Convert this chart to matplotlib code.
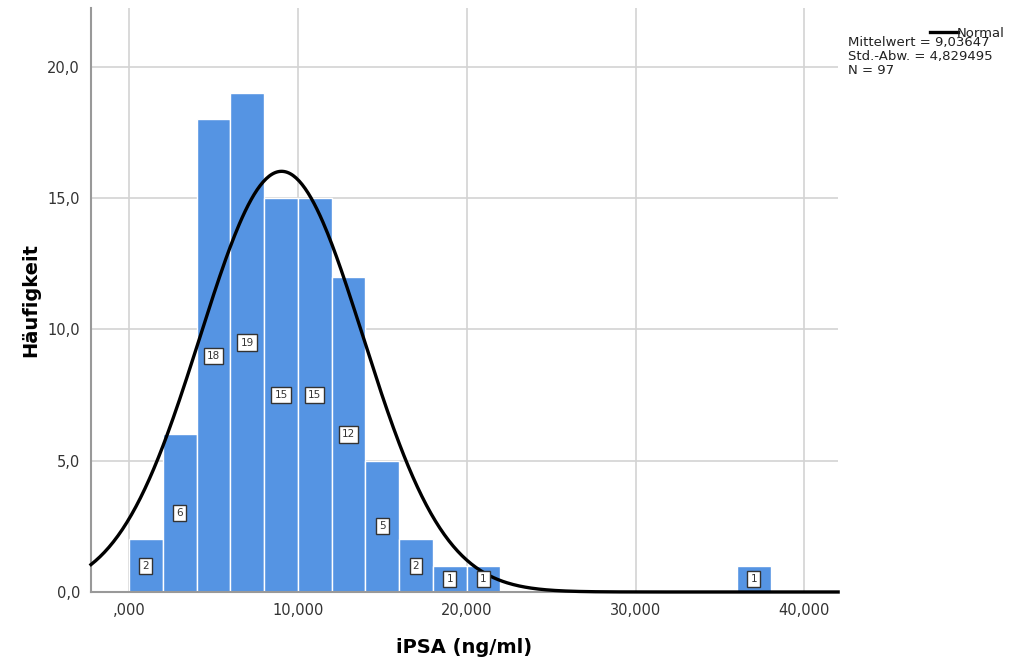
import matplotlib.pyplot as plt
import numpy as np

# Histogramm iPSA mit Normalverteilungskurve
bin_links = [0, 2, 4, 6, 8, 10, 12, 14, 16, 18, 20, 36]
haeufigkeit = [2, 6, 18, 19, 15, 15, 12, 5, 2, 1, 1, 1]
bin_breite = 2.0

mittelwert = 9.03647
std_abw = 4.829495
n_gesamt = 97

x_ticks = [0, 10, 20, 30, 40]
x_ticklabels = [',000', '10,000', '20,000', '30,000', '40,000']
y_ticks = [0, 5, 10, 15, 20]
y_ticklabels = ['0,0', '5,0', '10,0', '15,0', '20,0']

fig = plt.figure(figsize=(10.11, 6.61), dpi=100)
ax = fig.add_axes([0.090, 0.1044, 0.739, 0.8836])

ax.set_xlim(-2.25, 42.0)
ax.set_ylim(0, 22.25)

# Gitterlinien
for xt in x_ticks:
    ax.axvline(xt, color='#d3d3d3', lw=1.2, zorder=0)
for yt in y_ticks[1:]:
    ax.axhline(yt, color='#d3d3d3', lw=1.2, zorder=0)

ax.bar(bin_links, haeufigkeit, width=bin_breite, align='edge',
       color='#5594e3', edgecolor='white', linewidth=1.0, zorder=2)

# Beschriftung der Balken in halber Höhe
for xl, h in zip(bin_links, haeufigkeit):
    ax.text(xl + bin_breite / 2, h / 2, str(h), ha='center', va='center',
            fontsize=7.5, color='#333333', zorder=4,
            bbox=dict(boxstyle='square,pad=0.3', fc='white', ec='#333333', lw=1.0))

# Normalverteilung skaliert auf Anzahl * Klassenbreite
xs = np.linspace(-2.25, 42.0, 500)
ys = n_gesamt * bin_breite / (std_abw * np.sqrt(2 * np.pi)) * np.exp(-0.5 * ((xs - mittelwert) / std_abw) ** 2)
ax.plot(xs, ys, color='black', lw=2.4, zorder=3, clip_on=False)

for s in ['top', 'right']:
    ax.spines[s].set_visible(False)
ax.spines['left'].set_color('#999999')
ax.spines['left'].set_linewidth(1.5)
ax.spines['bottom'].set_color('#999999')
ax.spines['bottom'].set_linewidth(1.5)

ax.set_xticks(x_ticks)
ax.set_xticklabels(x_ticklabels)
ax.set_yticks(y_ticks)
ax.set_yticklabels(y_ticklabels)
ax.tick_params(length=0, labelsize=10.5, labelcolor='#333333', pad=8)

ax.set_xlabel('iPSA (ng/ml)', fontsize=14, fontweight='bold', labelpad=14)
ax.set_ylabel('Häufigkeit', fontsize=14, fontweight='bold', labelpad=5)

# Legende rechts oben
fig.lines.append(plt.Line2D([0.920, 0.948], [0.951, 0.951], transform=fig.transFigure,
                            color='black', lw=2.4))
fig.text(0.946, 0.950, 'Normal', fontsize=9.5, color='#222222', va='center', ha='left')
fig.text(0.839, 0.945, 'Mittelwert = 9,03647\nStd.-Abw. = 4,829495\nN = 97',
         fontsize=9.5, color='#222222', va='top', ha='left', linespacing=1.1)

fig.savefig('out.png', dpi=100)
